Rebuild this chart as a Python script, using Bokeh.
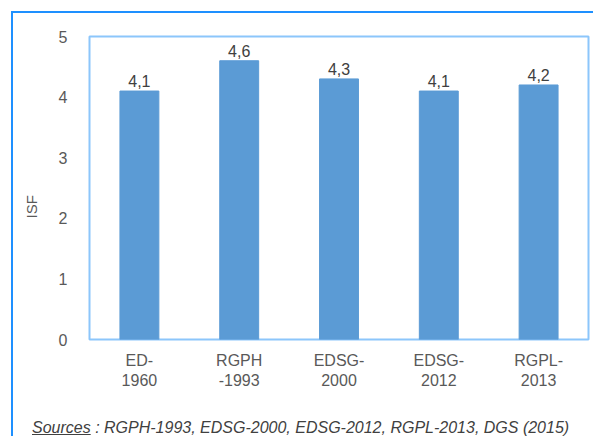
from bokeh.plotting import figure
from bokeh.models import FactorRange, ColumnDataSource, FixedTicker, Div
from bokeh.layouts import column
from bokeh.core.properties import value
from bokeh.embed import file_html
from bokeh.resources import INLINE

categories = ["ED-\n1960", "RGPH\n-1993", "EDSG-\n2000", "EDSG-\n2012", "RGPL-\n2013"]
isf_values = [4.1, 4.6, 4.3, 4.1, 4.2]
y_ticks = [0, 1, 2, 3, 4, 5]
y_label = "ISF"
source_label = "Sources"
source_list = "RGPH-1993, EDSG-2000, EDSG-2012, RGPL-2013, DGS (2015)"

FONT = "Liberation Sans"

labels = [f"{v:.1f}".replace(".", ",") for v in isf_values]
src = ColumnDataSource(dict(cat=categories, val=isf_values, lab=labels))

p = figure(width=580, height=394, output_backend="svg", toolbar_location=None,
           x_range=FactorRange(*categories, range_padding=0), y_range=(0, 5),
           min_border_left=76, min_border_right=5, min_border_top=23, min_border_bottom=68,
           margin=0)
p.background_fill_color = "white"
p.border_fill_color = "white"
p.outline_line_color = "#8cc6fb"
p.outline_line_width = 2
p.grid.visible = False

p.vbar(x="cat", top="val", width=0.39, source=src, fill_color="#5b9bd5", line_color="#5b9bd5")
p.text(x="cat", y="val", text="lab", source=src, text_align="center", text_baseline="bottom",
       y_offset=-4, text_font=value(FONT), text_font_size="16px", text_color="#404040")

p.yaxis.ticker = FixedTicker(ticks=y_ticks)
for ax in (p.xaxis[0], p.yaxis[0]):
    ax.axis_line_color = None
    ax.major_tick_line_color = None
    ax.minor_tick_line_color = None
    ax.major_label_text_font = FONT
    ax.major_label_text_font_size = "16px"
    ax.major_label_text_color = "#595959"
p.yaxis.major_label_standoff = 16
p.xaxis.major_label_standoff = 6
p.yaxis.axis_label = y_label + "\u00a0" * 9
p.yaxis.axis_label_standoff = 16
p.yaxis.axis_label_text_font = FONT
p.yaxis.axis_label_text_font_size = "15px"
p.yaxis.axis_label_text_font_style = "normal"
p.yaxis.axis_label_text_color = "#595959"

div = Div(text=(f'<div style="padding:12px 0 0 19px; font-family:\'{FONT}\'; font-style:italic; '
                f'font-size:16px; line-height:17px; color:#404040; white-space:nowrap">'
                f'<u>{source_label}</u> : {source_list}</div>'),
          width=580, height=29, margin=0)

layout = column(p, div, margin=(11, 0, 0, 11), spacing=0,
                styles={"border-left": "2px solid #1e90ff", "border-top": "2px solid #1e90ff"})

open("out.html", "w").write(file_html(layout, INLINE))
